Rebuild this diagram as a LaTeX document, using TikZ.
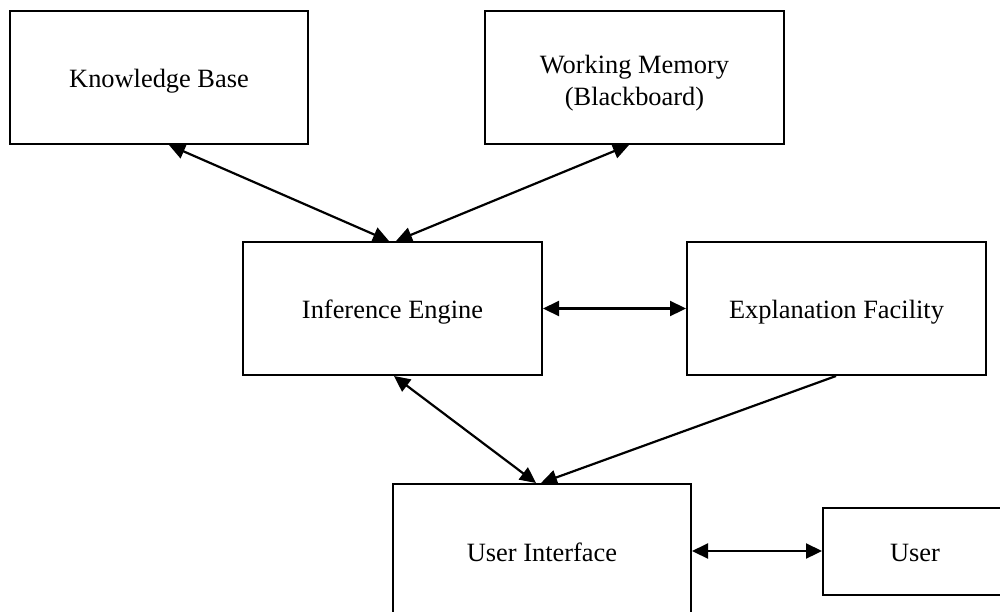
\documentclass[tikz,border=0pt]{standalone}
\usepackage{fontspec}
\setmainfont{Liberation Serif}
\usetikzlibrary{arrows.meta}
\begin{document}
\begin{tikzpicture}[x=0.5pt,y=-0.5pt,
  box/.style={draw=black,line width=1pt,rectangle,inner sep=0pt,align=center,
    font=\fontsize{13.2}{16}\selectfont,text height=10pt,text depth=0pt},
  conn/.style={line width=1.1pt,-{Triangle[length=8pt,width=7.5pt]}},
  dconn/.style={line width=1.1pt,{Triangle[length=8pt,width=7.5pt]}-{Triangle[length=8pt,width=7.5pt]}}]
\useasboundingbox (0,0) rectangle (1000,611);
\clip (0,0) rectangle (1000,611);
\fill[white] (0,0) rectangle (1000,611);
\node[box,minimum width=149pt,minimum height=66.5pt] (KB) at (159,77.5) {Knowledge Base};
\node[box,minimum width=149.5pt,minimum height=66.5pt,text height=27.5pt,text depth=0pt] (WM) at (634.5,77.5) {Working Memory\\(Blackboard)};
\node[box,minimum width=149.5pt,minimum height=66.5pt] (IE) at (392.5,308.5) {Inference Engine};
\node[box,minimum width=149.5pt,minimum height=66.5pt] (EF) at (836.5,308.5) {Explanation Facility};
\node[box,minimum width=149pt,minimum height=67pt] (UI) at (542,551) {User Interface};
\node[box,minimum width=92pt,minimum height=43.5pt] (U) at (915,551) {User};
\draw[dconn] ([xshift=80pt]KB.south west) -- ([xshift=73.5pt]IE.north west);
\draw[dconn] ([xshift=72.5pt]WM.south west) -- ([xshift=77pt]IE.north west);
\draw[dconn] (IE.east) -- (EF.west);
\draw[dconn] ([xshift=76pt]IE.south west) -- ([xshift=72pt]UI.north west);
\draw[conn] ([xshift=75pt]EF.south west) -- ([xshift=74.5pt]UI.north west);
\draw[dconn] (UI.east) -- (U.west);
\end{tikzpicture}
\end{document}
